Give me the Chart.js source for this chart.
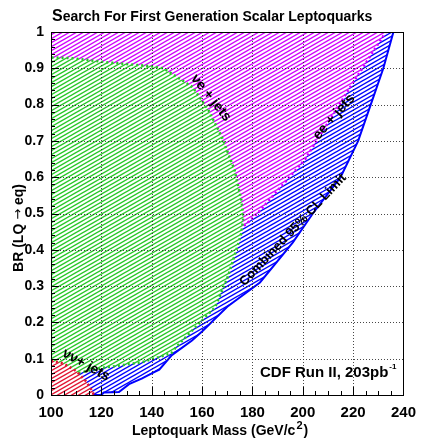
<!DOCTYPE html>
<html>
<head>
<meta charset="utf-8">
<script src="https://cdn.jsdelivr.net/npm/chart.js@4.4.1/dist/chart.umd.min.js"></script>
<style>
  html, body { margin: 0; padding: 0; background: #fff; }
  #wrap { width: 425px; height: 438px; }
</style>
</head>
<body>
<div id="wrap"><canvas id="lqChart" width="425" height="438"></canvas></div>
<script>
// exclusion contours (mass in GeV/c^2, BR)
const blueMass = [100, 120, 121, 127, 131, 136, 141, 143, 148, 156, 160, 170, 183, 196, 204, 215, 222, 227, 232, 236];
const blueBR   = [0, 0, 0.007, 0.008, 0.03, 0.045, 0.063, 0.07, 0.11, 0.15, 0.175, 0.243, 0.31, 0.42, 0.5, 0.6, 0.7, 0.8, 0.9, 1.0];

const eeMass = [100, 103.5, 115, 134, 154, 173, 178, 182, 201, 219, 233];
const eeBR   = [0.30, 0.30, 0.309, 0.344, 0.377, 0.446, 0.474, 0.5, 0.65, 0.85, 1.0];

const nueMass = [100, 100, 108.5, 121.6, 139.3, 144.7, 156.3, 162.5, 167.9, 172.9, 175.6, 176.4, 175.6, 174, 170.2, 165.2, 160.2, 149.7, 147.8, 136, 119.7, 110.4, 104, 100];
const nueBR   = [0.05, 0.93, 0.928, 0.917, 0.906, 0.9, 0.848, 0.785, 0.71, 0.62, 0.537, 0.49, 0.446, 0.408, 0.325, 0.242, 0.207, 0.132, 0.115, 0.09, 0.074, 0.06, 0.05, 0.05];

const nunuMass = [100, 105, 110, 114, 116.5, 117];
const nunuBR   = [0.095, 0.087, 0.066, 0.037, 0.01, 0];

const xTicks = [100, 120, 140, 160, 180, 200, 220, 240];

const FONT = '"Liberation Sans", Arial, Helvetica, sans-serif';

function pts(xs, ys) {
    return xs.map((x, i) => ({ x: x, y: ys[i] }));
}

// hachures blanches + lignes colorées, pente ~30 degrés
function hatch(ctx, color) {
    const tile = document.createElement('canvas');
    tile.width = 14;
    tile.height = 8;
    const t = tile.getContext('2d');
    t.fillStyle = '#fff';
    t.fillRect(0, 0, 14, 8);
    t.strokeStyle = color;
    t.lineWidth = 1.4;
    for (let k = -2; k <= 3; k++) {
        t.beginPath();
        t.moveTo(-1, 8 + 4 * k + 8 / 14);
        t.lineTo(15, 4 * k - 8 / 14);
        t.stroke();
    }
    return ctx.createPattern(tile, 'repeat');
}

const canvas = document.getElementById('lqChart');
const ctx = canvas.getContext('2d');

const blue = 'rgb(0,0,255)';
const magenta = 'rgb(210,0,255)';
const green = 'rgb(40,200,40)';
const red = 'rgb(225,20,50)';

// grille, graduations, textes : tout par dessus les hachures
const decor = {
    id: 'decor',
    afterDraw(chart) {
        const c = chart.ctx;
        const a = chart.chartArea;
        const xs = chart.scales.x;
        const ys = chart.scales.y;
        c.save();

        // grille pointillée
        c.strokeStyle = 'rgba(40,40,40,0.85)';
        c.lineWidth = 1;
        c.setLineDash([1, 2]);
        c.beginPath();
        xTicks.forEach(v => {
            const px = Math.round(xs.getPixelForValue(v)) + 0.5;
            c.moveTo(px, a.top);
            c.lineTo(px, a.bottom);
        });
        for (let i = 1; i < 10; i++) {
            const py = Math.round(ys.getPixelForValue(i / 10)) + 0.5;
            c.moveTo(a.left, py);
            c.lineTo(a.right, py);
        }
        c.stroke();
        c.setLineDash([]);

        // petites graduations vers l'intérieur
        c.strokeStyle = '#000';
        c.beginPath();
        for (let m = 100; m <= 240; m += 5) {
            const px = Math.round(xs.getPixelForValue(m)) + 0.5;
            const len = (m % 20 === 0) ? 8 : 4;
            c.moveTo(px, a.bottom);
            c.lineTo(px, a.bottom - len);
        }
        for (let i = 0; i <= 50; i++) {
            const py = Math.round(ys.getPixelForValue(i * 0.02)) + 0.5;
            const len = (i % 5 === 0) ? 8 : 4;
            c.moveTo(a.left, py);
            c.lineTo(a.left + len, py);
        }
        c.stroke();

        c.strokeRect(Math.round(a.left) + 0.5, Math.round(a.top) + 0.5, Math.round(a.right - a.left), Math.round(a.bottom - a.top));

        c.fillStyle = '#000';
        c.textBaseline = 'alphabetic';
        c.textAlign = 'left';

        // titre
        c.font = 'bold 16px ' + FONT;
        c.fillText('S', 52, 21);
        const sw = c.measureText('S').width;
        c.font = 'bold 14px ' + FONT;
        c.fillText('earch For First Generation Scalar Leptoquarks', 52 + sw, 21);

        // titre axe x avec exposant
        c.font = 'bold 14px ' + FONT;
        let x0 = 132;
        const part1 = 'Leptoquark Mass (GeV/c';
        c.fillText(part1, x0, 435);
        x0 += c.measureText(part1).width + 1;
        c.font = 'bold 11px ' + FONT;
        c.fillText('2', x0, 429);
        x0 += c.measureText('2').width + 1;
        c.font = 'bold 14px ' + FONT;
        c.fillText(')', x0, 435);

        // titre axe y (flèche en DejaVu)
        c.save();
        c.translate(23, 228);
        c.rotate(-Math.PI / 2);
        const p1 = 'BR (LQ ', p3 = ' eq)';
        c.font = 'bold 14px ' + FONT;
        const w1 = c.measureText(p1).width;
        const w3 = c.measureText(p3).width;
        c.font = '13px "DejaVu Sans"';
        const w2 = c.measureText('\u2192').width;
        let tx = -(w1 + w2 + w3) / 2;
        c.font = 'bold 14px ' + FONT;
        c.fillText(p1, tx, 0);
        tx += w1;
        c.font = '13px "DejaVu Sans"';
        c.fillText('\u2192', tx, -1);
        tx += w2;
        c.font = 'bold 14px ' + FONT;
        c.fillText(p3, tx, 0);
        c.restore();

        // étiquettes des courbes
        function rotText(txt, cx, cy, deg, size) {
            c.save();
            c.translate(cx, cy);
            c.rotate(deg * Math.PI / 180);
            c.textAlign = 'center';
            c.textBaseline = 'middle';
            c.font = 'bold ' + size + 'px ' + FONT;
            c.fillText(txt, 0, 0);
            c.restore();
        }
        rotText('\u03bde + jets', 211, 98, 51, 14);
        rotText('ee + jets', 334, 117, -48.5, 14);
        rotText('Combined 95% CL Limit', 293, 230, -46.7, 13);
        rotText('\u03bd\u03bd+ jets', 86, 365, 29, 14);

        // légende CDF
        c.font = 'bold 15px ' + FONT;
        const cdf = 'CDF Run II, 203pb';
        c.fillText(cdf, 260, 377);
        const cw = c.measureText(cdf).width;
        c.font = 'bold 8px ' + FONT;
        c.fillText('-1', 260 + cw + 1, 369);

        c.restore();
    }
};

const myChart = new Chart(ctx, {
    type: 'line',
    data: {
        datasets: [
            {
                label: 'Combined 95% CL Limit',
                data: pts(blueMass, blueBR),
                borderColor: blue,
                borderWidth: 2,
                backgroundColor: hatch(ctx, blue),
                fill: 'end',
                pointRadius: 0,
                tension: 0,
                order: 4
            },
            {
                label: 'ee + jets',
                data: pts(eeMass, eeBR),
                borderColor: magenta,
                borderWidth: 2.5,
                borderDash: [2, 3],
                backgroundColor: hatch(ctx, magenta),
                fill: 'end',
                pointRadius: 0,
                tension: 0,
                order: 3
            },
            {
                label: '\u03bde + jets',
                data: pts(nueMass, nueBR),
                borderColor: green,
                borderWidth: 2.5,
                borderDash: [2, 3],
                backgroundColor: hatch(ctx, green),
                fill: 'shape',
                pointRadius: 0,
                tension: 0,
                order: 2
            },
            {
                label: '\u03bd\u03bd + jets',
                data: pts(nunuMass, nunuBR),
                borderColor: red,
                borderWidth: 2.5,
                borderDash: [2, 3],
                backgroundColor: hatch(ctx, red),
                fill: 'origin',
                pointRadius: 0,
                tension: 0,
                order: 1
            }
        ]
    },
    options: {
        responsive: false,
        animation: false,
        events: [],
        layout: { padding: { top: 32, right: 11, left: 0, bottom: 0 } },
        plugins: {
            legend: { display: false },
            tooltip: { enabled: false },
            title: { display: false },
            filler: { propagate: false }
        },
        scales: {
            x: {
                type: 'linear',
                min: 100,
                max: 240,
                afterFit(scale) { scale.height = 43; },
                afterBuildTicks(scale) { scale.ticks = xTicks.map(v => ({ value: v })); },
                grid: { display: false, drawTicks: false },
                border: { display: false },
                ticks: {
                    padding: 9,
                    color: '#000',
                    font: { family: FONT, size: 15, weight: 'bold' },
                    maxRotation: 0
                }
            },
            y: {
                type: 'linear',
                min: 0,
                max: 1,
                afterFit(scale) { scale.width = 51; },
                grid: { display: false, drawTicks: false },
                border: { display: false },
                ticks: {
                    stepSize: 0.1,
                    padding: 7,
                    color: '#000',
                    font: { family: FONT, size: 14, weight: 'bold' },
                    callback: v => String(Number(v.toFixed(2)))
                }
            }
        }
    },
    plugins: [decor]
});
</script>
</body>
</html>
